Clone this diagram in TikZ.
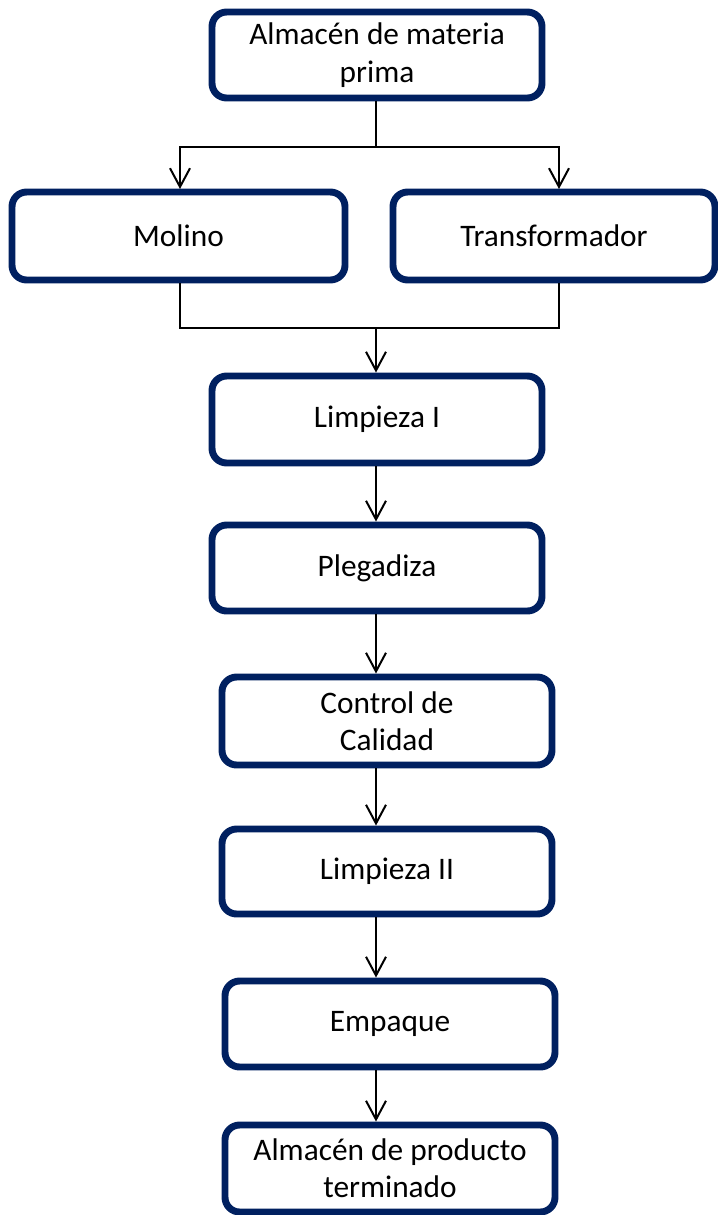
\documentclass[tikz,border=0pt]{standalone}
\usepackage{fontspec}
\setmainfont{Carlito}
\usetikzlibrary{arrows.meta}
\definecolor{navy}{HTML}{002060}
\begin{document}
\begin{tikzpicture}[x=0.75pt,y=-0.75pt,
    paso/.style={draw=navy,line width=5.2pt,rounded corners=11pt,fill=white,
      minimum width=247.5pt,minimum height=64.5pt,align=center,inner sep=0pt,
      font=\fontsize{23.5}{28}\selectfont},
    flecha/.style={line width=1.5pt,-{Straight Barb[length=14pt,width=15pt,line width=1.5pt]}}]
      \useasboundingbox (0,0) rectangle (718,1215);
      \node[paso] (almacen) at (377,55) {Almacén de materia\\prima};
      \node[paso,minimum width=249.75pt,minimum height=66pt] (molino) at (178.5,236) {Molino};
      \node[paso,minimum width=241.5pt,minimum height=66pt] (trans) at (554,236) {Transformador};
      \node[paso,minimum height=65.25pt] (limpuno) at (377,419.5) {Limpieza I};
      \node[paso] (pleg) at (377,568) {Plegadiza};
      \node[paso,minimum height=66pt] (control) at (387,721) {Control de\\Calidad};
      \node[paso,minimum height=63.75pt] (limpdos) at (387,871.5) {Limpieza II};
      \node[paso] (empaque) at (390,1024) {Empaque};
      \node[paso,minimum height=65.25pt] (final) at (390,1168.5) {Almacén de producto\\terminado};
      % ramas de entrada y salida
      \coordinate (divide) at (376,147); \coordinate (junta) at (376,328);
      \coordinate (izq) at (180,189); \coordinate (der) at (559,189);
      \draw[line width=1.5pt] (almacen.south -| divide) -- (divide);
      \draw[flecha] (divide) -| (izq);
      \draw[flecha] (divide) -| (der);
      \draw[line width=1.5pt] (molino.south -| izq) |- (junta);
      \draw[line width=1.5pt] (trans.south -| der) |- (junta);
      \draw[flecha] (junta) -- (limpuno.north -| junta);
      \draw[flecha] (limpuno.south -| junta) -- (pleg.north -| junta);
      \draw[flecha] (pleg.south -| junta) -- (control.north -| junta);
      \draw[flecha] (control.south -| junta) -- (limpdos.north -| junta);
      \draw[flecha] (limpdos.south -| junta) -- (empaque.north -| junta);
      \draw[flecha] (empaque.south -| junta) -- (final.north -| junta);
\end{tikzpicture}
\end{document}
